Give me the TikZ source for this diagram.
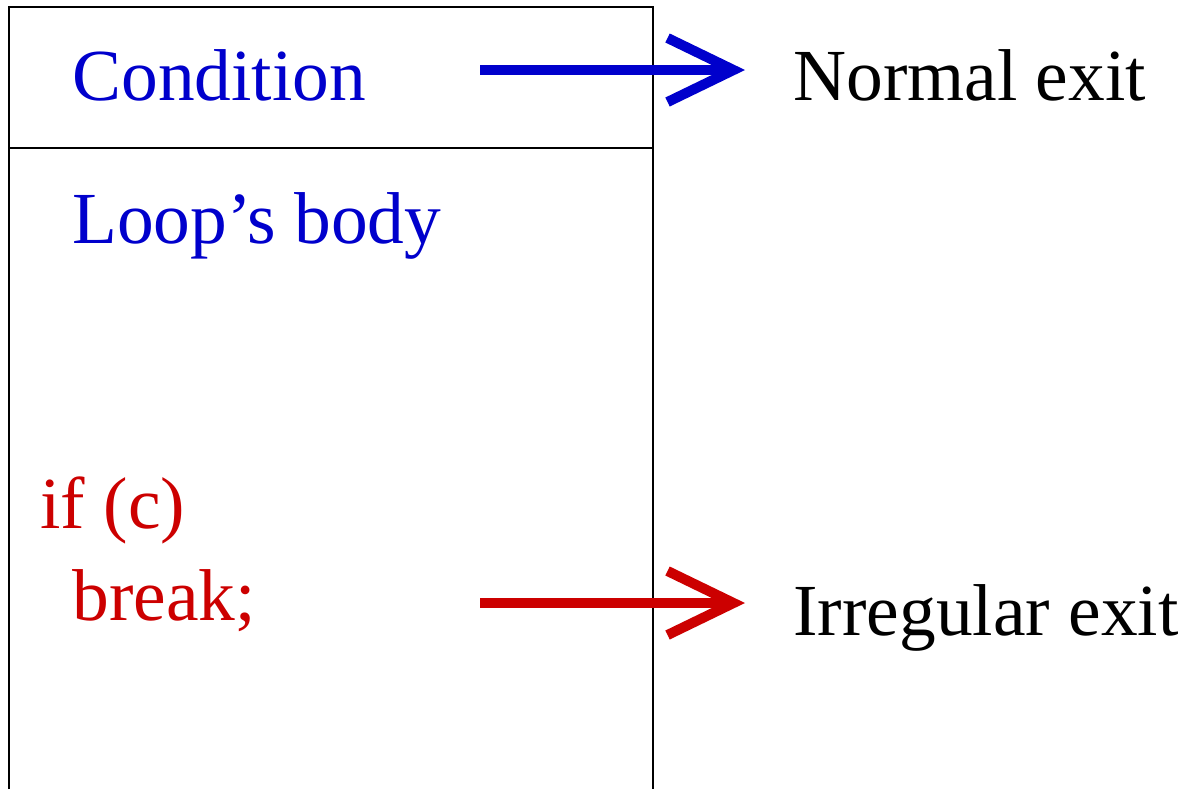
\documentclass[tikz,border=0pt]{standalone}
\usepackage{fontspec}
\setmainfont{Liberation Serif}
\usepackage{xcolor}
\usetikzlibrary{arrows.meta}
\definecolor{CondBlue}{HTML}{0000CC}
\definecolor{BreakRed}{HTML}{CC0000}

\begin{document}
\begin{tikzpicture}[x=0.5pt, y=-0.5pt,
    txt/.style={anchor=base west, inner sep=0pt, font=\fontsize{36.7}{40}\selectfont},
    exitarrow/.style={line width=5pt, -{Straight Barb[length=33pt, width=32pt, line width=5pt]}}]
        \useasboundingbox (0,0) rectangle (1185,789);
        % the loop box, open at the bottom
        \draw[line width=1pt] (9,789) -- (9,7) -- (653,7) -- (653,789);
        \draw[line width=1pt] (9,148) -- (653,148);
        % texts
        \node[txt, CondBlue] (cond) at (72,100) {Condition};
        \node[txt, CondBlue] (body) at (72,243) {Loop's body};
        \node[txt, BreakRed] (ifc) at (40,528) {if (c)};
        \node[txt, BreakRed] (brk) at (72,620) {break;};
        \node[txt] (normal) at (793,100) {Normal exit};
        \node[txt] (irreg) at (793,635) {Irregular exit};
        % exits
        \coordinate (condout) at (480,70);
        \coordinate (normalin) at (745,70);
        \coordinate (brkout) at (480,603);
        \coordinate (irregin) at (745,603);
        \draw[exitarrow, CondBlue] (condout) -- (normalin);
        \draw[exitarrow, BreakRed] (brkout) -- (irregin);
    \end{tikzpicture}
\end{document}
